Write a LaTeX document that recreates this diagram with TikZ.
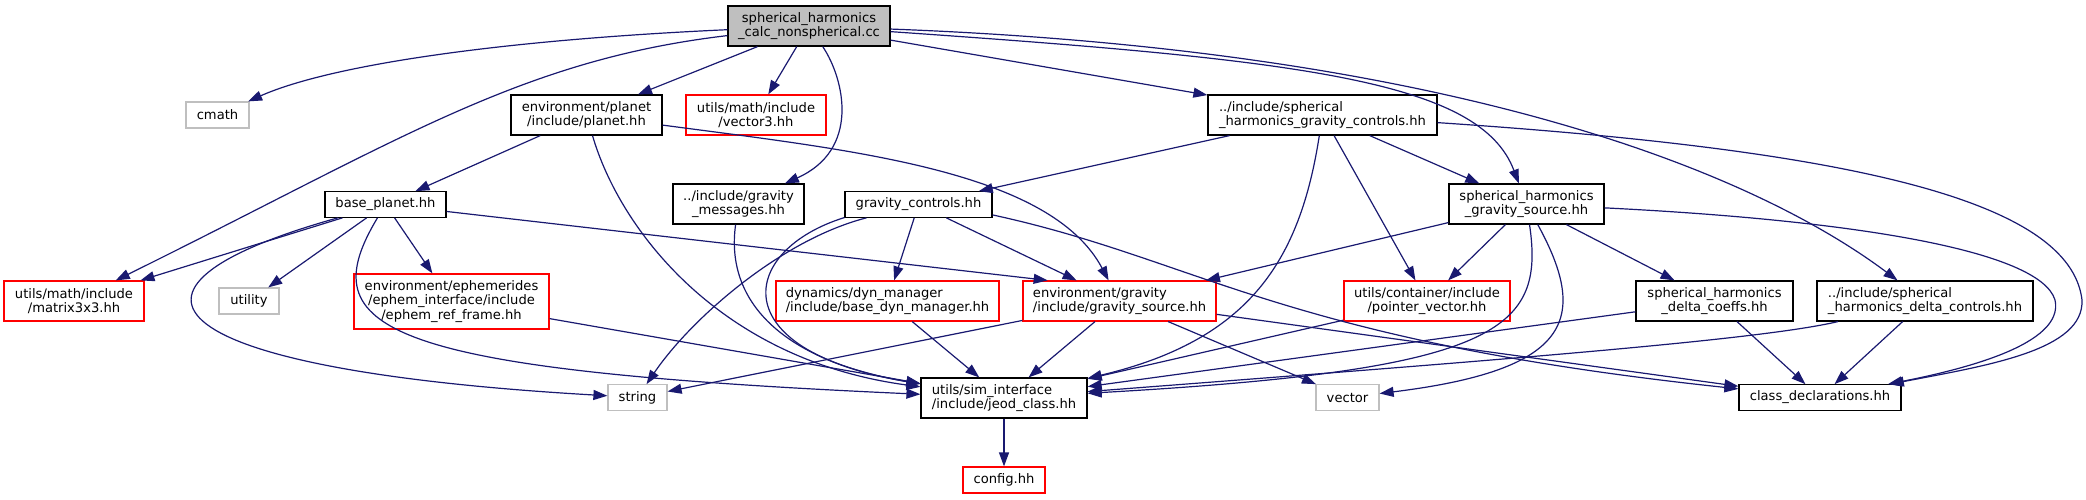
\documentclass[tikz,border=0pt]{standalone}
\usepackage{fontspec}
\setmainfont{DejaVu Sans}
\usepackage{xcolor}
\usetikzlibrary{arrows.meta,positioning}
\definecolor{edgeblue}{HTML}{191970}
\definecolor{sysgray}{HTML}{BFBFBF}
\definecolor{nodocred}{HTML}{FF0000}
\newcommand{\fname}{\fontsize{6.55}{7.15}\selectfont}

\begin{document}
\begin{tikzpicture}[x=0.5pt, y=-0.5pt,
  box/.style={draw=black, line width=0.6pt, fill=white, inner sep=0pt,
              align=center, font=\fname, minimum height=12.75pt},
  sysbox/.style={box, draw=sysgray},
  redbox/.style={box, draw=nodocred},
  rootbox/.style={box, fill=sysgray},
  twoline/.style={minimum height=20pt},
  threeline/.style={minimum height=27.5pt},
  lefttxt/.style={align=left},
  arr/.style={draw=edgeblue, line width=0.6pt, -{Triangle[length=7pt, width=5pt]}}]
\useasboundingbox (0,0) rectangle (2086,499);
% rank 0
\node[rootbox, twoline, minimum width=81pt] (root) at (809,26) {spherical\_harmonics\\\_calc\_nonspherical.cc};
% rank 1
\node[sysbox, minimum width=31.5pt, minimum height=13pt] (cmath) at (217.5,115) {cmath};
\node[box, twoline, minimum width=75.5pt] (planet) at (586.5,115) {environment/planet\\/include/planet.hh};
\node[redbox, twoline, minimum width=70pt] (vecthree) at (756,115) {utils/math/include\\/vector3.hh};
\node[box, twoline, lefttxt, minimum width=114.5pt] (shgctl) at (1322.5,115) {../include/spherical\\\_harmonics\_gravity\_controls.hh};
% rank 2
\node[box, minimum width=60.5pt] (baseplanet) at (385.5,204.5) {base\_planet.hh};
\node[box, twoline, minimum width=65.5pt] (gmsg) at (738.5,204) {../include/gravity\\\_messages.hh};
\node[box, minimum width=73.5pt] (gctl) at (918.5,204.5) {gravity\_controls.hh};
\node[box, twoline, minimum width=77.5pt] (shgsrc) at (1526.5,204) {spherical\_harmonics\\\_gravity\_source.hh};
% rank 3
\node[redbox, twoline, minimum width=70pt] (matrix) at (74,301) {utils/math/include\\/matrix3x3.hh};
\node[sysbox, minimum width=30pt, minimum height=13pt] (utility) at (249,301) {utility};
\node[redbox, threeline, minimum width=97.5pt] (ephem) at (451.5,301.5) {environment/ephemerides\\/ephem\_interface/include\\/ephem\_ref\_frame.hh};
\node[redbox, twoline, lefttxt, minimum width=111.5pt] (dynmgr) at (887.5,301) {dynamics/dyn\_manager\\/include/base\_dyn\_manager.hh};
\node[redbox, twoline, lefttxt, minimum width=96.5pt] (gsrc) at (1119.5,301) {environment/gravity\\/include/gravity\_source.hh};
\node[redbox, twoline, minimum width=83pt] (ptrvec) at (1427,301) {utils/container/include\\/pointer\_vector.hh};
\node[box, twoline, minimum width=78.5pt] (dcoeffs) at (1714.5,301) {spherical\_harmonics\\\_delta\_coeffs.hh};
\node[box, twoline, lefttxt, minimum width=108pt] (dctl) at (1925,301) {../include/spherical\\\_harmonics\_delta\_controls.hh};
% rank 4
\node[sysbox, minimum width=29.5pt] (string) at (637.5,397.5) {string};
\node[box, twoline, lefttxt, minimum width=83pt] (jeod) at (1004,398) {utils/sim\_interface\\/include/jeod\_class.hh};
\node[sysbox, minimum width=31.5pt] (vector) at (1347.5,397.5) {vector};
\node[box, minimum width=81pt] (classdecl) at (1820,397.5) {class\_declarations.hh};
% rank 5
\node[redbox, minimum width=41pt, minimum height=13pt] (config) at (1004,480) {config.hh};

% includes of the source file
\draw[arr] (root) .. controls (500,40) and (330,65) .. (cmath);
\draw[arr] (root) .. controls (520,60) and (400,140) .. (matrix);
\draw[arr] (root) -- (planet);
\draw[arr] (root) -- (vecthree);
\draw[arr] (root) .. controls (845,80) and (860,150) .. (gmsg);
\draw[arr] (root) -- (shgctl);
\draw[arr] (root) .. controls (1300,60) and (1480,80) .. (shgsrc);
\draw[arr] (root) .. controls (1450,50) and (1750,170) .. (dctl);
% planet.hh
\draw[arr] (planet) -- (baseplanet);
\draw[arr] (planet) .. controls (620,230) and (720,360) .. (jeod);
\draw[arr] (planet) .. controls (850,150) and (1050,170) .. (gsrc);
% base_planet.hh
\draw[arr] (baseplanet) -- (matrix);
\draw[arr] (baseplanet) .. controls (80,290) and (160,370) .. (string);
\draw[arr] (baseplanet) -- (utility);
\draw[arr] (baseplanet) .. controls (310,330) and (380,370) .. (jeod);
\draw[arr] (baseplanet) -- (ephem);
\draw[arr] (baseplanet) -- (gsrc.164);
\draw[arr] (ephem) -- (jeod);
\draw[arr] (gmsg) .. controls (725,300) and (780,360) .. (jeod);
% gravity_controls.hh
\draw[arr] (gctl) .. controls (780,240) and (690,320) .. (string);
\draw[arr] (gctl.190) .. controls (740,250) and (720,350) .. (jeod);
\draw[arr] (gctl) -- (dynmgr);
\draw[arr] (gctl) -- (gsrc);
\draw[arr] (gctl.-8) .. controls (1200,260) and (1280,340) .. (classdecl);
\draw[arr] (dynmgr) -- (jeod);
% gravity_source.hh
\draw[arr] (gsrc) -- (string);
\draw[arr] (gsrc) -- (jeod);
\draw[arr] (gsrc) -- (vector);
\draw[arr] (gsrc) -- (classdecl);
% spherical harmonics controls
\draw[arr] (shgctl) -- (gctl);
\draw[arr] (shgctl) .. controls (1300,260) and (1250,340) .. (jeod);
\draw[arr] (shgctl) -- (ptrvec);
\draw[arr] (shgctl) -- (shgsrc);
\draw[arr] (shgctl) .. controls (1850,150) and (2070,200) .. (2082,300)
   .. controls (2084,350) and (1990,365) .. (classdecl);
% spherical harmonics source
\draw[arr] (shgsrc) -- (gsrc);
\draw[arr] (shgsrc) -- (ptrvec);
\draw[arr] (shgsrc) .. controls (1545,330) and (1500,370) .. (jeod);
\draw[arr] (shgsrc) .. controls (1590,320) and (1570,370) .. (vector);
\draw[arr] (shgsrc) -- (dcoeffs);
\draw[arr] (shgsrc) .. controls (1850,220) and (2040,250) .. (2055,300)
   .. controls (2065,345) and (1960,370) .. (classdecl);
\draw[arr] (ptrvec) -- (jeod);
\draw[arr] (dcoeffs) -- (jeod);
\draw[arr] (dcoeffs) -- (classdecl);
\draw[arr] (dctl) .. controls (1760,340) and (1500,360) .. (jeod);
\draw[arr] (dctl) -- (classdecl);
\draw[arr] (jeod) -- (config);
\end{tikzpicture}
\end{document}
